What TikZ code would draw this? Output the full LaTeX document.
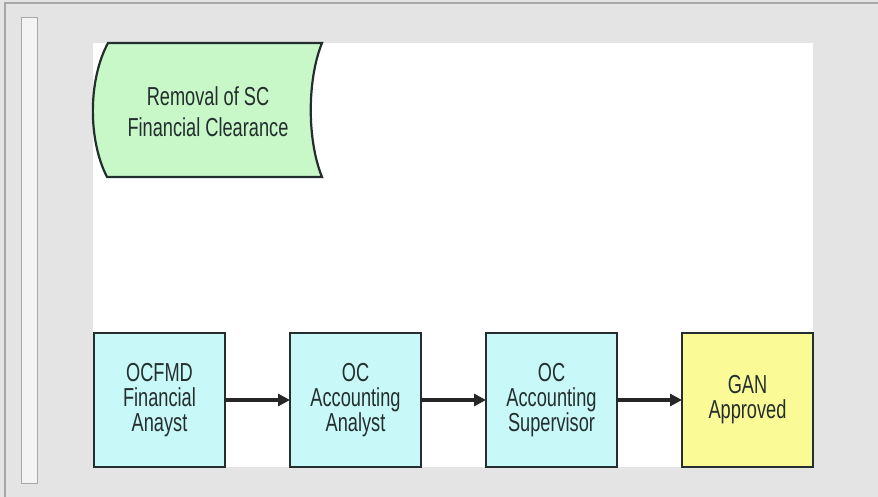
\documentclass[tikz,border=0pt]{standalone}
\usepackage{fontspec}
\usepackage{tikz}
\usetikzlibrary{arrows.meta, positioning, calc}
\newfontfamily\flowfont[FakeStretch=0.7]{Liberation Sans}
\definecolor{marble}{RGB}{228,228,228}
\definecolor{rim}{RGB}{168,168,168}
\definecolor{edge}{RGB}{36,46,46}
\definecolor{verdecito}{RGB}{200,247,200}
\definecolor{cianito}{RGB}{200,248,248}
\definecolor{amarillito}{RGB}{250,250,150}
\tikzset{
  flowbox/.style={draw=edge, line width=2.2pt, minimum width=131pt, minimum height=134pt,
    inner sep=0pt, outer sep=0pt, align=center, text=edge,
    font=\flowfont\fontsize{26}{25}\selectfont},
  flowarrow/.style={line width=3.2pt, draw=black!85, -{Triangle[length=12pt,width=12pt]}}
}
\begin{document}
\begin{tikzpicture}[x=1pt, y=-1pt]
			\useasboundingbox (0,0) rectangle (878,497);
			\fill [marble] (0,0) rectangle (878,497);
			\draw [rim, line width=1.2pt] (5,497) -- (5,3) -- (878,3);
			\draw [rim, fill=white!60!marble, line width=1pt] (21,18) rectangle (37,483);

			\fill [white] (93,43) rectangle (813,467);

			% removal of clearance
			\draw [edge, fill=verdecito, line width=2.2pt] (108,43) -- (322,43)
				.. controls (307,80) and (307,140) .. (322,177) -- (107,177)
				.. controls (88,140) and (88,80) .. cycle;
			\node [align=center, text=edge, font=\flowfont\fontsize{26}{31}\selectfont] (removal) at (208,112) {Removal of SC\\Financial Clearance};

			\node [flowbox, fill=cianito] (ocfmd) at (159.5,400) {OCFMD\\Financial\\Anayst};
			\node [flowbox, fill=cianito, right=65pt of ocfmd] (analyst) {OC\\Accounting\\Analyst};
			\node [flowbox, fill=cianito, right=65pt of analyst] (supervisor) {OC\\Accounting\\Supervisor};
			\node [flowbox, fill=amarillito, right=65pt of supervisor] (gan) {GAN\\Approved};

			\draw [flowarrow] (ocfmd.east) -- (analyst.west);
			\draw [flowarrow] (analyst.east) -- (supervisor.west);
			\draw [flowarrow] (supervisor.east) -- (gan.west);

\end{tikzpicture}
\end{document}
